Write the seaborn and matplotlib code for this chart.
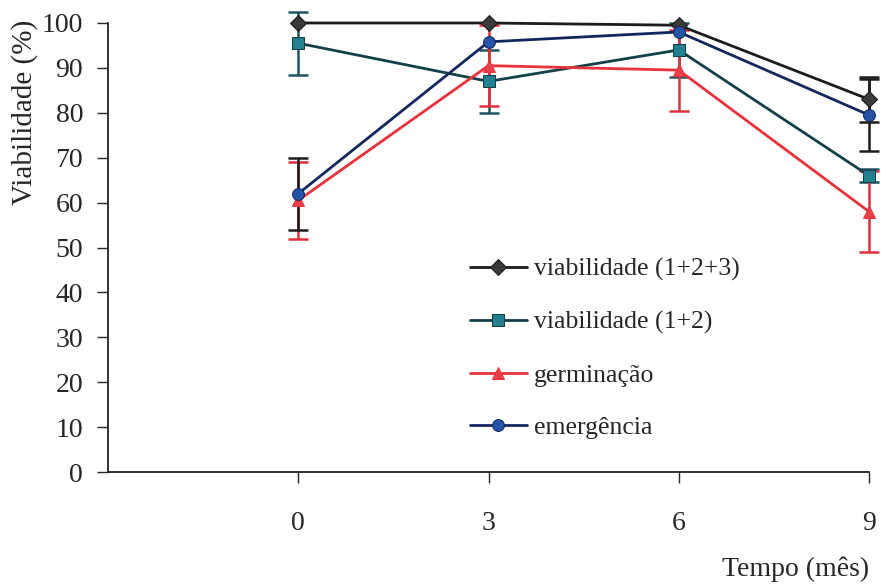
import numpy as np
import pandas as pd
import matplotlib
matplotlib.use('Agg')
import matplotlib.pyplot as plt
import seaborn as sns

tempo = [0, 3, 6, 9]
series = ['viabilidade (1+2+3)', 'viabilidade (1+2)', 'germinação', 'emergência']

viab123 = [100, 100, 99.5, 83]
viab123_err = [np.nan, np.nan, np.nan, 5]
viab12 = [95.5, 87, 94, 66]
viab12_err = [7, 7, 6, 1.5]
germ = [60.5, 90.5, 89.5, 58]
germ_err = [8.5, 9, 9, 9]
emerg = [62, 95.8, 98, 79.5]
emerg_err = [8, np.nan, np.nan, 8]

xticks = [0, 3, 6, 9]
yticks = [0, 10, 20, 30, 40, 50, 60, 70, 80, 90, 100]

sns.set_style('ticks')
plt.rcParams['font.family'] = 'serif'
plt.rcParams['font.serif'] = ['Liberation Serif', 'DejaVu Serif']

df = pd.DataFrame({
    'tempo': tempo * 4,
    'valor': viab123 + viab12 + germ + emerg,
    'erro': viab123_err + viab12_err + germ_err + emerg_err,
    'serie': sum([[s] * 4 for s in series], []),
})

line_cols = {'viabilidade (1+2+3)': '#1c1c1c', 'viabilidade (1+2)': '#14404a',
             'germinação': '#e8323c', 'emergência': '#14275e'}
face_cols = {'viabilidade (1+2+3)': '#3a3a3a', 'viabilidade (1+2)': '#23808e',
             'germinação': '#e8404a', 'emergência': '#2454a8'}
err_cols = {'viabilidade (1+2+3)': '#1c1c1c', 'viabilidade (1+2)': '#1d5560',
            'germinação': '#e0303a', 'emergência': '#1c1c1c'}
markers = {'viabilidade (1+2+3)': 'D', 'viabilidade (1+2)': 's',
           'germinação': '^', 'emergência': 'o'}
msizes = {'viabilidade (1+2+3)': 8, 'viabilidade (1+2)': 8,
          'germinação': 9, 'emergência': 8.5}

fig = plt.figure(figsize=(8.81, 5.85), dpi=100)
ax = fig.add_axes([0.1226, 0.193, 0.8638, 0.7677])

for s in series:
    d = df[df.serie == s].dropna()
    eb = ax.errorbar(d.tempo, d.valor, yerr=d.erro, fmt='none', ecolor=err_cols[s],
                     elinewidth=1.8, capsize=7, capthick=1.8, zorder=2)
    for art in eb.lines[1] + eb.lines[2]:
        art.set_clip_on(False)

for s in series:
    d = df[df.serie == s]
    sns.lineplot(data=d, x='tempo', y='valor', ax=ax, color=line_cols[s],
                 linewidth=2, marker=markers[s], markersize=msizes[s],
                 markerfacecolor=face_cols[s], markeredgecolor=line_cols[s],
                 label=s, zorder=3, clip_on=False)

ax.set_xlim(-3, 9)
ax.set_ylim(0, 100)
ax.set_xticks(xticks)
ax.set_yticks(yticks)
ax.tick_params(axis='x', length=8, width=1, pad=20, labelsize=20, direction='out')
ax.tick_params(axis='y', length=8, width=1, pad=10, labelsize=20, direction='out')
sns.despine(ax=ax)
for sp in ['left', 'bottom']:
    ax.spines[sp].set_linewidth(1.3)
    ax.spines[sp].set_color('#222222')

ax.set_xlabel('Tempo (mês)', fontsize=20, loc='right', labelpad=15)
ax.set_ylabel('Viabilidade (%)', fontsize=21)
ax.yaxis.set_label_coords(-0.092, 0.80)

leg = ax.legend(loc='upper left', bbox_to_anchor=(0.4757, 0.4766), frameon=False,
                fontsize=18.5, handlelength=2.2, labelspacing=1.15, handletextpad=0.3,
                borderaxespad=0, borderpad=0)

fig.savefig('out.png', dpi=100)
